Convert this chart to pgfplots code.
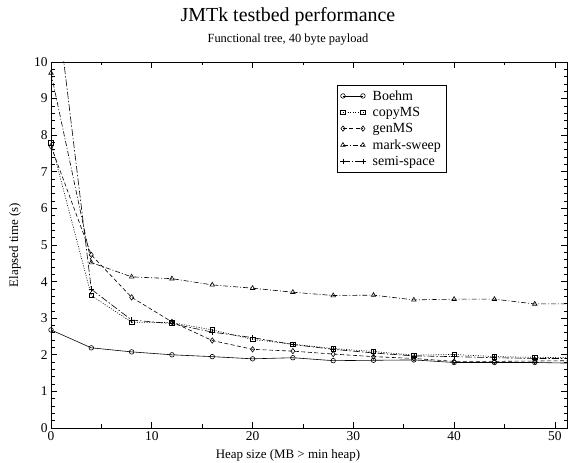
\documentclass[border=0pt]{standalone}
\usepackage{fontspec}
\setmainfont{Liberation Serif}
\usepackage{pgfplots}
\usepackage{pgfplotstable}
\pgfplotsset{compat=1.18}

% heap size vs elapsed time
\pgfplotstableread{
x  boehm copyms genms marksweep semispace
0  2.68  7.80   7.70  9.70      12.90
4  2.19  3.62   4.73  4.52      3.79
8  2.08  2.89   3.57  4.13      2.95
12 2.00  2.88   2.90  4.08      2.85
16 1.95  2.68   2.39  3.91      2.62
20 1.89  2.42   2.15  3.82      2.47
24 1.92  2.29   2.10  3.71      2.28
28 1.84  2.17   2.02  3.62      2.15
32 1.85  2.09   1.95  3.63      2.05
36 1.86  1.99   1.90  3.50      1.97
40 1.79  2.01   1.82  3.52      1.95
44 1.79  1.95   1.82  3.52      1.92
48 1.79  1.93   1.83  3.39      1.90
52 1.77  1.92   1.84  3.39      1.90
}\gcdata

\begin{document}
\begin{tikzpicture}
\begin{axis}[
    name=ax,
    scale only axis,
    width=516bp, height=366bp,
    xmin=0, xmax=51.2,
    ymin=0, ymax=10,
    xtick={0,10,...,50},
    ytick={0,1,...,10},
    minor x tick num=1,
    minor y tick num=4,
    tick align=inside,
    major tick length=6bp,
    minor tick length=3.5bp,
    axis line style={line width=0.9pt},
    every tick/.style={black, line width=0.7pt},
    tick label style={font=\fontsize{13.5}{15}\selectfont},
    /pgf/number format/assume math mode=true,
    every axis plot/.append style={black, line width=0.6pt, mark size=2.3pt, mark options={solid}},
    legend style={at={(0.554,0.937)}, anchor=north west, draw=black, line width=0.6pt,
        font=\fontsize{14}{16}\selectfont, inner sep=3bp, row sep=1.5bp,
        /tikz/every odd column/.append style={column sep=5bp}},
    legend cell align=left,
    legend image code/.code={\draw[#1] plot coordinates {(0bp,0bp) (20bp,0bp)};},
]
\addplot[solid, mark=o] table[x=x, y=boehm] {\gcdata};
\addlegendentry{Boehm}
\addplot[dash pattern=on 1pt off 1.5pt, mark=square] table[x=x, y=copyms] {\gcdata};
\addlegendentry{copyMS}
\addplot[dash pattern=on 4pt off 2.5pt, mark=diamond, mark size=2.7pt] table[x=x, y=genms] {\gcdata};
\addlegendentry{genMS}
\addplot[dash pattern=on 5pt off 2pt on 1pt off 2pt, mark=triangle, mark size=2.6pt] table[x=x, y=marksweep] {\gcdata};
\addlegendentry{mark-sweep}
\addplot[dash pattern=on 7pt off 2pt on 1.5pt off 2pt, mark=+, mark size=2.8pt] table[x=x, y=semispace] {\gcdata};
\addlegendentry{semi-space}
\end{axis}

\node[font=\fontsize{20}{24}\selectfont] at ([xshift=-21bp,yshift=45bp]ax.north) {JMTk testbed performance};
\node[font=\fontsize{12.5}{15}\selectfont] at ([xshift=-21bp,yshift=22bp]ax.north) {Functional tree, 40 byte payload};
\node[font=\fontsize{13}{15}\selectfont] at ([xshift=-21bp,yshift=-27bp]ax.south) {Heap size (MB > min heap)};
\node[font=\fontsize{13}{15}\selectfont, rotate=90] at ([xshift=-36bp]ax.west) {Elapsed time (s)};

\pgfresetboundingbox
\path[use as bounding box] ([xshift=-51bp,yshift=-35bp]ax.south west) rectangle ([xshift=1bp,yshift=62bp]ax.north east);
\end{tikzpicture}
\end{document}
